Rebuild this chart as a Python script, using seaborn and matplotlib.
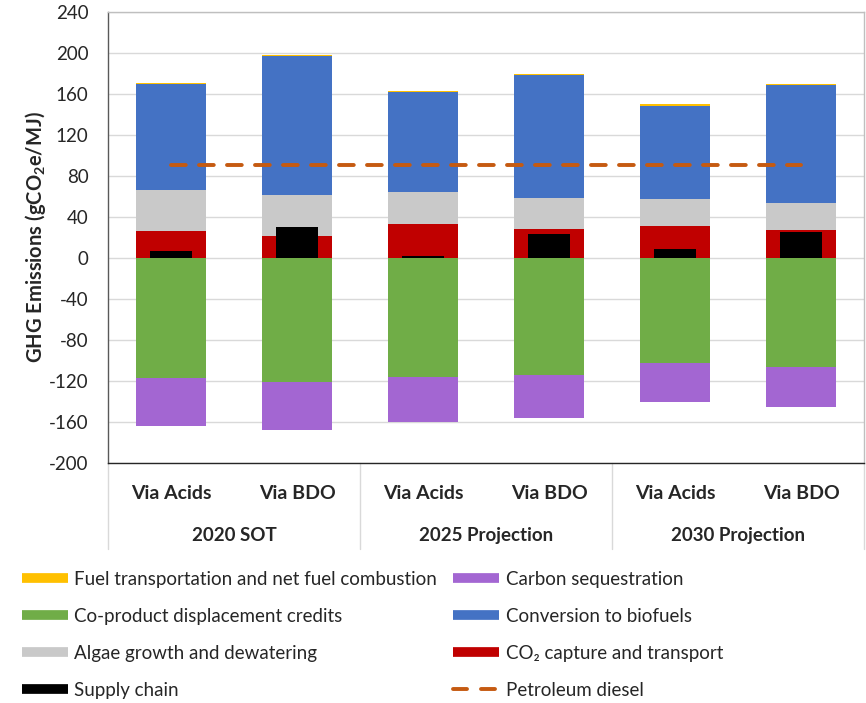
import pandas as pd
import seaborn as sns
import matplotlib.pyplot as plt
from matplotlib.lines import Line2D
import matplotlib.transforms as mtransforms

# bar values (gCO2e/MJ)
groups = ['2020 SOT', '2025 Projection', '2030 Projection']
routes = ['Via Acids', 'Via BDO', 'Via Acids', 'Via BDO', 'Via Acids', 'Via BDO']
group_of_bar = ['2020 SOT', '2020 SOT', '2025 Projection', '2025 Projection', '2030 Projection', '2030 Projection']

co2_capture = [26.0, 21.5, 33.0, 28.3, 31.5, 27.6]
algae_growth = [40.0, 40.0, 31.4, 30.2, 26.4, 25.8]
conversion = [103.5, 135.5, 97.2, 120.3, 90.7, 115.6]
fuel_transport = [1.2, 1.3, 1.3, 1.1, 1.2, 1.2]
supply_chain = [6.5, 30.5, 2.3, 23.7, 8.5, 25.4]
coproduct = [-117.0, -120.5, -115.8, -113.7, -102.5, -106.0]
sequestration = [-47.0, -47.5, -44.2, -42.3, -38.0, -39.0]
diesel = [91, 91, 91, 91, 91, 91]

colors = {
    'fuel': '#FFC000', 'coprod': '#70AD47', 'algae': '#C9C9C9', 'supply': '#000000',
    'seq': '#A366D2', 'conv': '#4472C4', 'co2': '#C00000', 'diesel': '#C55A11',
}

df = pd.DataFrame({'bar': [g + ' | ' + r + str(i) for i, (g, r) in enumerate(zip(group_of_bar, routes))]})
df['co2'] = co2_capture
df['algae'] = df['co2'] + algae_growth
df['conv'] = df['algae'] + conversion
df['fuel'] = df['conv'] + fuel_transport
df['supply'] = supply_chain
df['coprod'] = coproduct
df['seq'] = df['coprod'] + sequestration

sns.set_style('white')
plt.rcParams['font.family'] = ['Lato', 'DejaVu Sans']
plt.rcParams['axes.unicode_minus'] = False

fig = plt.figure(figsize=(8.66, 7.03), dpi=100)
ax = fig.add_axes([0.1247, 0.3414, 0.873, 0.6416])

# stacked bars: draw tallest first, then shorter on top
for col in ['fuel', 'conv', 'algae', 'co2', 'seq', 'coprod']:
    sns.barplot(data=df, x='bar', y=col, color=colors[col], width=0.56,
                saturation=1, ax=ax, zorder=2, linewidth=0)
sns.barplot(data=df, x='bar', y='supply', color=colors['supply'], width=0.33,
            saturation=1, ax=ax, zorder=3, linewidth=0)

# petroleum diesel reference
sns.lineplot(x=list(range(len(diesel))), y=diesel, ax=ax, color=colors['diesel'],
             lw=2.8, dashes=False, zorder=4)
ax.lines[-1].set_dashes((3.8, 3.4))
ax.lines[-1].set_dash_capstyle('round')

ax.set_ylim(-200, 240)
ax.set_xlim(-0.5, 5.5)
ax.set_yticks(range(-200, 241, 40))
ax.tick_params(axis='y', length=0, pad=14, labelsize=13.5, labelcolor='#262626')
ax.tick_params(axis='x', length=0, pad=16)
ax.set_xticks(range(6))
ax.set_xticklabels(routes, fontsize=14, fontweight='bold')
ax.set_xlabel('')
ax.set_ylabel('GHG Emissions (gCO$_\\mathregular{2}$e/MJ)', fontsize=14.5, fontweight='bold', labelpad=1)
ax.grid(axis='y', color='#D9D9D9', lw=1, zorder=0)
ax.set_axisbelow(True)
for s in ['top', 'right']:
    ax.spines[s].set_color('#BFBFBF')
ax.spines['left'].set_color('#595959')
ax.spines['bottom'].set_color('#262626')
for s in ax.spines.values():
    s.set_linewidth(1)

# category table below the axis
trans = mtransforms.blended_transform_factory(ax.transData, ax.transAxes)
for i, g in enumerate(groups):
    ax.text(2 * i + 0.5, -0.16, g, transform=trans, ha='center', va='center',
            fontsize=13.5, fontweight='bold')
for xb in [-0.5, 1.5, 3.5, 5.5]:
    ax.plot([xb, xb], [0, -0.19], transform=trans, color='#D9D9D9', lw=1, clip_on=False)

def patch(c):
    return Line2D([0], [0], color=c, lw=7, solid_capstyle='butt')

left_items = [('fuel', 'Fuel transportation and net fuel combustion'),
              ('coprod', 'Co-product displacement credits'),
              ('algae', 'Algae growth and dewatering'),
              ('supply', 'Supply chain')]
right_items = [('seq', 'Carbon sequestration'),
               ('conv', 'Conversion to biofuels'),
               ('co2', 'CO\u2082 capture and transport')]

h1 = [patch(colors[k]) for k, _ in left_items]
h2 = [patch(colors[k]) for k, _ in right_items]
h2.append(Line2D([0], [0], color=colors['diesel'], lw=2.8, dashes=(3.6, 3.6), dash_capstyle='round'))
l2 = [t for _, t in right_items] + ['Petroleum diesel']

leg_kw = dict(frameon=False, fontsize=13.5, handlelength=2.45, handletextpad=0.35,
              labelspacing=1.06, borderaxespad=0, borderpad=0)
fig.legend(h1, [t for _, t in left_items], loc='upper left',
           bbox_to_anchor=(22 / 866, 1 - 571 / 703), **leg_kw)
fig.legend(h2, l2, loc='upper left',
           bbox_to_anchor=(453 / 866, 1 - 571 / 703), **leg_kw)

plt.savefig('out.png', dpi=100)
